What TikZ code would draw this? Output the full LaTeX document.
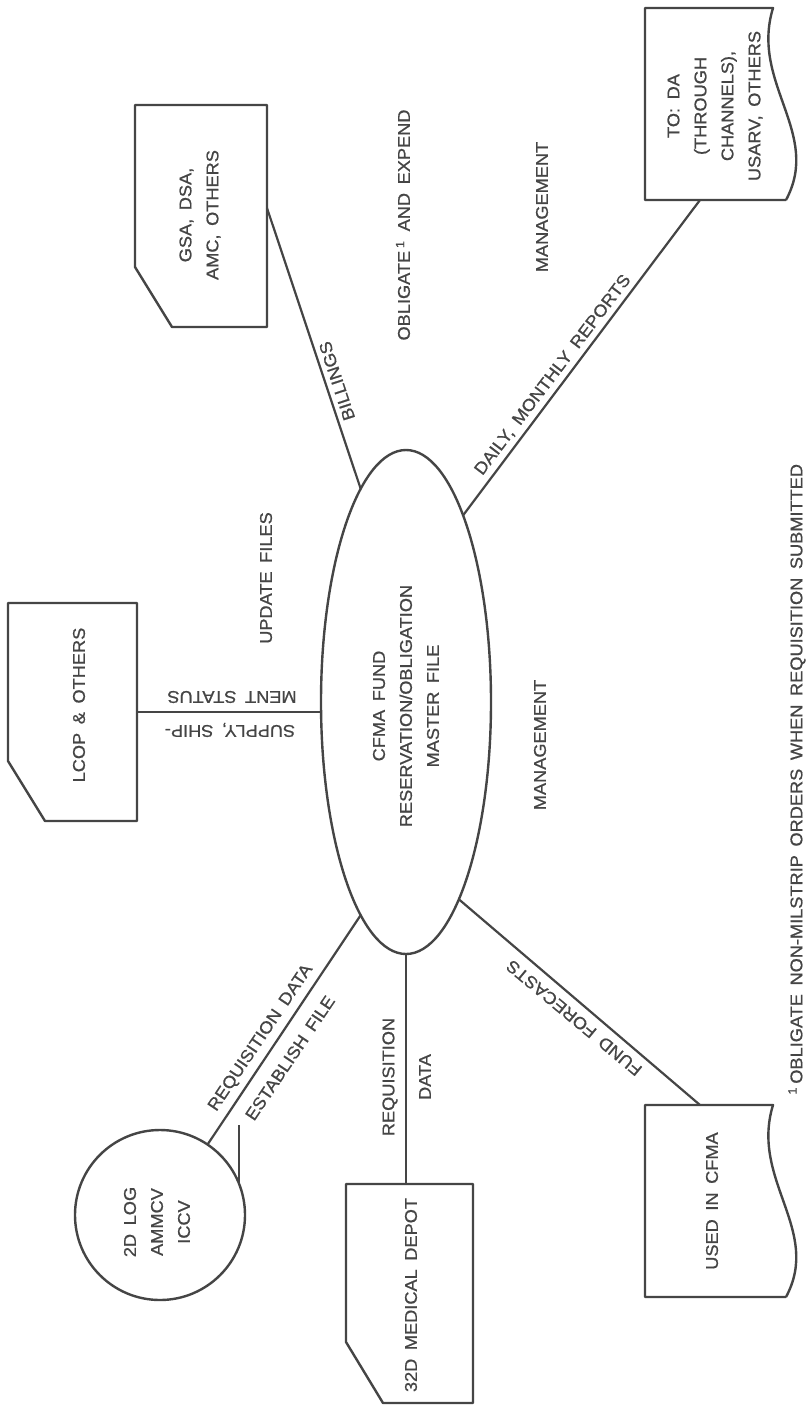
\documentclass[tikz,border=0pt]{standalone}
\usepackage{fontspec}
\setmainfont{Liberation Sans}[WordSpace=1.7, FakeStretch=1.07, FakeBold=0.8]
\usetikzlibrary{shapes.geometric}
\definecolor{ink}{gray}{0.27}
\begin{document}
\begin{tikzpicture}[x=0.5pt,y=-0.5pt,
  every node/.style={font=\fontsize{8.5}{13.5}\selectfont, text=ink},
  shapebox/.style={inner sep=0pt, outer sep=0pt},
  lbl/.style={inner sep=1pt, align=center},
  outline/.style={draw=ink, line width=1.2pt, line join=round},
  conn/.style={draw=ink, line width=1.1pt}]
\useasboundingbox (0,0) rectangle (805,1408);
\fill[white] (0,0) rectangle (805,1408);

% central file
\node[ellipse, shapebox, outline, minimum width=85pt, minimum height=252pt] (ell) at (406,702) {};
\node[lbl, rotate=90] (ellt) at (406,706) {CFMA FUND\\RESERVATION/OBLIGATION\\MASTER FILE};

% circle 2D LOG
\node[circle, shapebox, outline, minimum size=85pt] (log) at (160,1215) {};
\node[lbl, rotate=90] (logt) at (157,1222) {2D LOG\\AMMCV\\ICCV};

% GSA box (cut corner)
\node[shapebox, minimum width=66pt, minimum height=111pt] (gsa) at (201,216) {};
\draw[outline] (gsa.north west) -- (gsa.north east) -- (gsa.south east) -- ([xshift=18.5pt]gsa.south west) -- ([yshift=30pt]gsa.south west) -- cycle;
\node[lbl, rotate=90] (gsat) at (200,215) {GSA, DSA,\\AMC, OTHERS};

% LCOP box
\node[shapebox, minimum width=64.5pt, minimum height=109pt] (lcop) at (72.5,712) {};
\draw[outline] (lcop.north west) -- (lcop.north east) -- (lcop.south east) -- ([xshift=18.5pt]lcop.south west) -- ([yshift=30pt]lcop.south west) -- cycle;
\node[lbl, rotate=90] (lcopt) at (79,705) {LCOP \& OTHERS};

% 32D MEDICAL DEPOT box
\node[shapebox, minimum width=63.5pt, minimum height=109.5pt] (dep) at (409.5,1293.5) {};
\draw[outline] (dep.north west) -- (dep.north east) -- (dep.south east) -- ([xshift=18.5pt]dep.south west) -- ([yshift=30.5pt]dep.south west) -- cycle;
\node[lbl, rotate=90] (dept) at (411,1295) {32D MEDICAL DEPOT};

% TO: DA document
\node[shapebox, minimum width=70.5pt, minimum height=96pt] (toda) at (715.5,104) {};
\draw[outline] (toda.south east) -- (toda.south west) -- (toda.north west) -- (773,8)
   .. controls (750,83) and (822,133) .. (toda.south east);
\node[lbl, rotate=90, align=center] (todat) at (715,106) {TO: DA\\(THROUGH\\CHANNELS),\\USARV, OTHERS};

% USED IN CFMA document
\node[shapebox, minimum width=70.5pt, minimum height=96pt] (used) at (715.5,1201) {};
\draw[outline] (used.south east) -- (used.south west) -- (used.north west) -- (773,1105)
   .. controls (750,1180) and (822,1230) .. (used.south east);
\node[lbl, rotate=90] (usedt) at (712,1201) {USED IN CFMA};

% connectors
\draw[conn] ([yshift=4pt]gsa.east) -- (ell.102);
\draw[conn] (ell.73) -- ([xshift=-7.75pt]toda.south);
\draw[conn] (lcop.east) -- (lcop.east -| ell.west);
\draw[conn] (log.56) -- (ell.-102);
\coordinate (estop) at (239,1125);
\draw[conn] (log.22) -- (log.22 |- estop);
\draw[conn] (ell.south) -- (ell.south |- dep.north);
\draw[conn] (ell.-75.7) -- ([xshift=-7.75pt]used.north);

% connector labels
\node[lbl, rotate=108.1] (lbill) at (337,381) {BILLINGS};
\node[lbl, rotate=52.8] (ldaily) at (553,375) {DAILY, MONTHLY REPORTS};
\node[lbl, rotate=180] (lsup1) at (230,730) {SUPPLY, SHIP-};
\node[lbl, rotate=180] (lsup2) at (232,697) {MENT STATUS};
\node[lbl, rotate=56] (lreq) at (261,1038) {REQUISITION DATA};
\node[lbl, rotate=56] (lest) at (290,1058) {ESTABLISH FILE};
\node[lbl, rotate=90] (lreq2) at (390,1077) {REQUISITION};
\node[lbl, rotate=90] (ldata) at (425,1077) {DATA};
\node[lbl, rotate=140.3] (lfund) at (574,1018) {FUND FORECASTS};

% free texts
\node[lbl, rotate=90] (tupd) at (266,578) {UPDATE FILES};
\node[lbl, rotate=90] (toblig) at (403,225) {OBLIGATE\,\textsuperscript{1} AND EXPEND};
\node[lbl, rotate=90] (tman1) at (542,207) {MANAGEMENT};
\node[lbl, rotate=90] (tman2) at (540,745) {MANAGEMENT};
\node[lbl, rotate=90, anchor=west] (tfoot) at (797,1097) {\textsuperscript{1}\,OBLIGATE NON-MILSTRIP ORDERS WHEN REQUISITION SUBMITTED};
\end{tikzpicture}
\end{document}
